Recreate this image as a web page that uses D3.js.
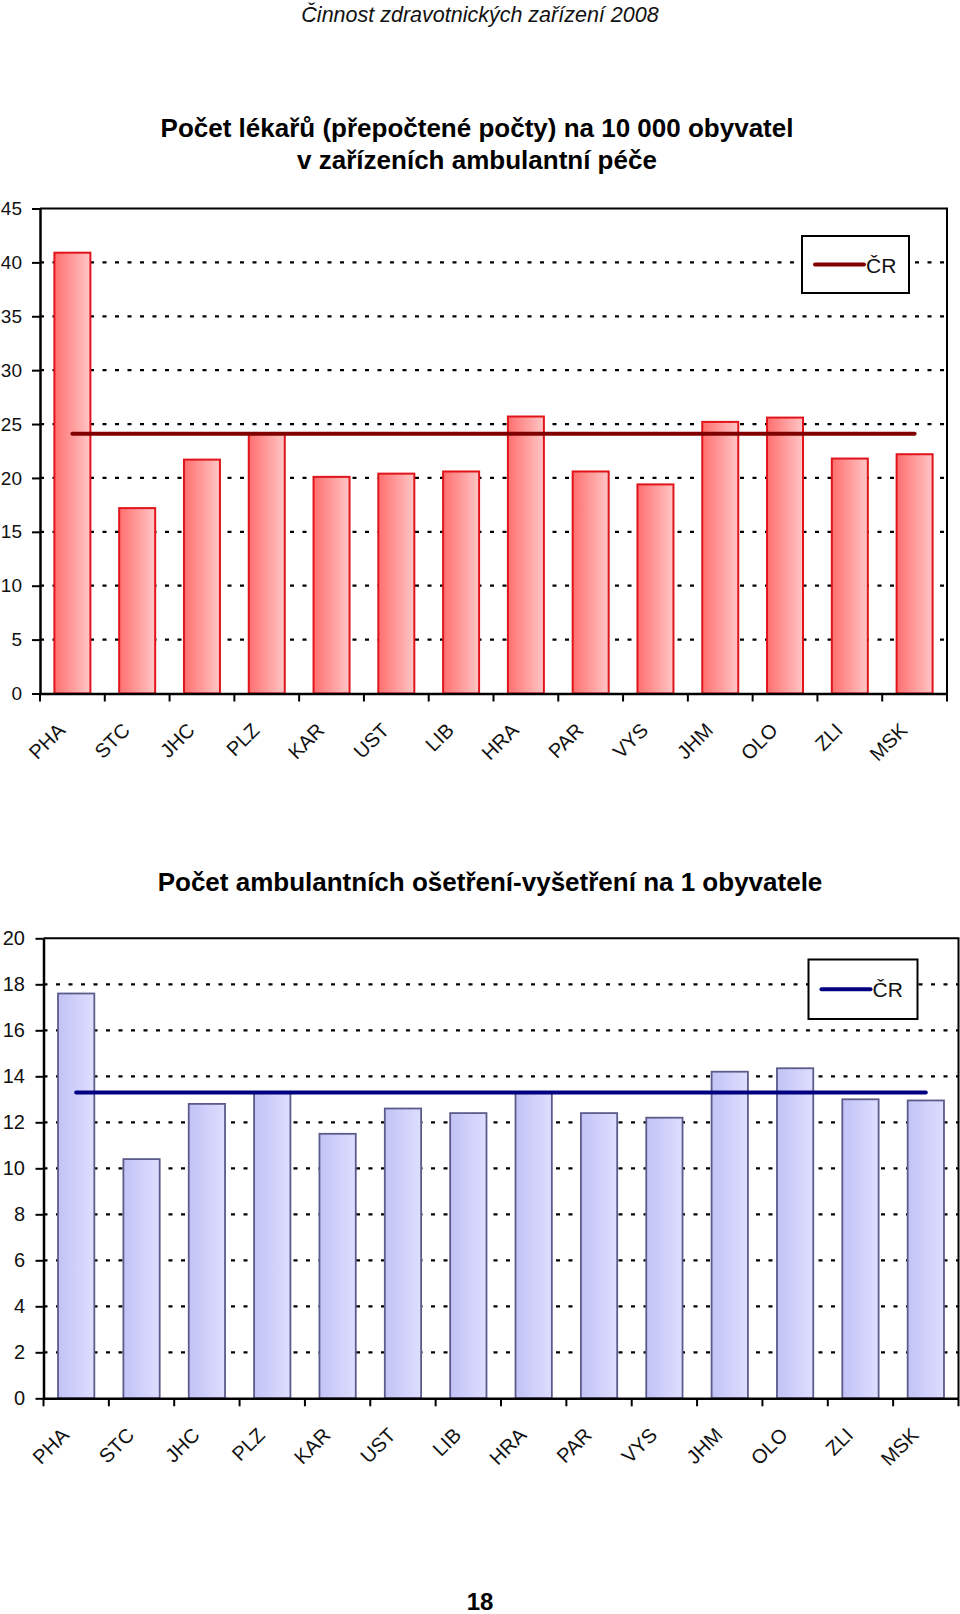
<!DOCTYPE html>
<html><head><meta charset="utf-8">
<script src="https://cdn.jsdelivr.net/npm/d3@7"></script>
<style>
html,body{margin:0;padding:0;background:#fff;}
svg text{font-family:"Liberation Sans",Arial,sans-serif;}
</style></head>
<body>
<svg id="c" width="960" height="1614"></svg>
<script>
const regions = ["PHA","STC","JHC","PLZ","KAR","UST","LIB","HRA","PAR","VYS","JHM","OLO","ZLI","MSK"];
const doctors = [40.9,17.2,21.7,24.1,20.1,20.4,20.6,25.7,20.6,19.4,25.2,25.6,21.8,22.2];
const doctorsCR = 24.1;
const doctorsTicks = [0,5,10,15,20,25,30,35,40,45];
const visits = [17.6,10.4,12.8,13.3,11.5,12.6,12.4,13.3,12.4,12.2,14.2,14.35,13.0,12.95];
const visitsCR = 13.3;
const visitsTicks = [0,2,4,6,8,10,12,14,16,18,20];
const headerText = "Činnost zdravotnických zařízení 2008";
const title1 = ["Počet lékařů (přepočtené počty) na 10 000 obyvatel","v zařízeních ambulantní péče"];
const title2 = ["Počet ambulantních ošetření-vyšetření na 1 obyvatele"];
const legendLabel = "ČR";
const pageNumber = "18";

const svg = d3.select("#c");
const defs = svg.append("defs");
function grad(id, c0, c1){
  const g = defs.append("linearGradient").attr("id",id).attr("x1","0%").attr("x2","100%").attr("y1","0%").attr("y2","0%");
  g.append("stop").attr("offset","0%").attr("stop-color",c0);
  g.append("stop").attr("offset","100%").attr("stop-color",c1);
}
grad("gRed","#ff6f6f","#ffc6c6");
grad("gBlue","#c2c2f6","#dedeff");

svg.append("text").attr("x",480).attr("y",22).attr("text-anchor","middle")
  .attr("font-style","italic").attr("font-size",21.5).attr("fill","#111").text(headerText);

function chart(o){
  const g = svg.append("g");
  const x = d3.scaleBand().domain(regions).range([o.x0,o.x1]).paddingInner(0.8/1.8).paddingOuter(0.4/1.8);
  const xb = d3.scaleBand().domain(regions).range([o.x0,o.x1]);
  const y = d3.scaleLinear().domain([0,o.max]).range([o.y0,o.y1]);
  o.title.forEach((t,i)=>{
    g.append("text").attr("x",o.titleX).attr("y",o.titleY + i*o.titleLH).attr("text-anchor","middle")
      .attr("font-weight","bold").attr("font-size",o.titleSize).attr("fill","#000").text(t);
  });
  g.append("g").selectAll("line").data(o.ticks.filter(t=>t>0 && t<o.max)).join("line")
    .attr("x1",o.x0).attr("x2",o.x1).attr("y1",d=>y(d)).attr("y2",d=>y(d))
    .attr("stroke","#000").attr("stroke-width",2.2).attr("stroke-dasharray","4,8.5");
  g.append("g").selectAll("rect").data(o.values).join("rect")
    .attr("x",(d,i)=>x(regions[i])).attr("width",x.bandwidth())
    .attr("y",d=>y(d)).attr("height",d=>y(0)-y(d))
    .attr("fill",o.fill).attr("stroke",o.stroke).attr("stroke-width",o.strokeW);
  g.append("path").attr("d",`M${o.x0},${o.y1}H${o.x1}V${o.y0}`).attr("fill","none").attr("stroke","#000").attr("stroke-width",2);
  const ya = g.append("g").attr("transform",`translate(${o.x0},0)`)
    .call(d3.axisLeft(y).tickValues(o.ticks).tickSize(8).tickSizeOuter(0).tickPadding(o.yPad));
  ya.select(".domain").attr("stroke","#000").attr("stroke-width",2.5);
  ya.selectAll(".tick line").attr("stroke","#000").attr("stroke-width",2);
  ya.selectAll(".tick text").attr("font-size",o.ySize).attr("fill","#111").attr("font-family","Liberation Sans, Arial, sans-serif");
  const xa = g.append("g").attr("transform",`translate(0,${o.y0})`)
    .call(d3.axisBottom(xb).tickSize(0).tickSizeOuter(0).tickFormat(""));
  xa.select(".domain").attr("stroke","#000").attr("stroke-width",2.5);
  const bounds = regions.map(r=>xb(r)).concat([o.x1]);
  g.append("g").selectAll("line").data(bounds).join("line")
    .attr("x1",d=>d).attr("x2",d=>d).attr("y1",o.y0).attr("y2",o.y0+8)
    .attr("stroke","#000").attr("stroke-width",2);
  g.append("g").selectAll("text").data(regions).join("text")
    .attr("transform",d=>`translate(${xb(d)+xb.bandwidth()/2+o.lblDx},${o.y0+o.lblDy}) rotate(-45)`)
    .attr("text-anchor","end").attr("font-size",20).attr("fill","#111").text(d=>d);
  const cx0 = xb(regions[0])+xb.bandwidth()/2, cx1 = xb(regions[regions.length-1])+xb.bandwidth()/2;
  g.append("line").attr("x1",cx0).attr("x2",cx1).attr("y1",y(o.cr)).attr("y2",y(o.cr))
    .attr("stroke",o.crColor).attr("stroke-width",4).attr("stroke-linecap","round");
  const L = o.legend;
  g.append("rect").attr("x",L.x).attr("y",L.y).attr("width",L.w).attr("height",L.h)
    .attr("fill","#fff").attr("stroke","#000").attr("stroke-width",2);
  g.append("line").attr("x1",L.x+13).attr("x2",L.x+62).attr("y1",L.y+L.h/2).attr("y2",L.y+L.h/2)
    .attr("stroke",o.crColor).attr("stroke-width",4).attr("stroke-linecap","round");
  g.append("text").attr("x",L.x+64).attr("y",L.y+L.h/2+8).attr("font-size",21).attr("fill","#111").text(legendLabel);
}

chart({x0:40,x1:947,y0:693.5,y1:208.5,max:45,ticks:doctorsTicks,values:doctors,cr:doctorsCR,
  fill:"url(#gRed)",stroke:"#e0141a",strokeW:2,crColor:"#800000",
  title:title1,titleX:477,titleY:137,titleLH:31.5,titleSize:26,yPad:10,ySize:19,lblDx:-6,lblDy:38,
  legend:{x:802,y:236,w:107,h:57}});

chart({x0:43.5,x1:958.5,y0:1398.3,y1:938.3,max:20,ticks:visitsTicks,values:visits,cr:visitsCR,
  fill:"url(#gBlue)",stroke:"#5c5c8c",strokeW:1.8,crColor:"#000080",
  title:title2,titleX:490,titleY:891,titleLH:0,titleSize:26,yPad:10.5,ySize:20,lblDx:-6,lblDy:38,
  legend:{x:808.5,y:959.5,w:109,h:59.5}});

svg.append("text").attr("x",480).attr("y",1610).attr("text-anchor","middle")
  .attr("font-weight","bold").attr("font-size",24).attr("fill","#000").text(pageNumber);
</script>
</body></html>
